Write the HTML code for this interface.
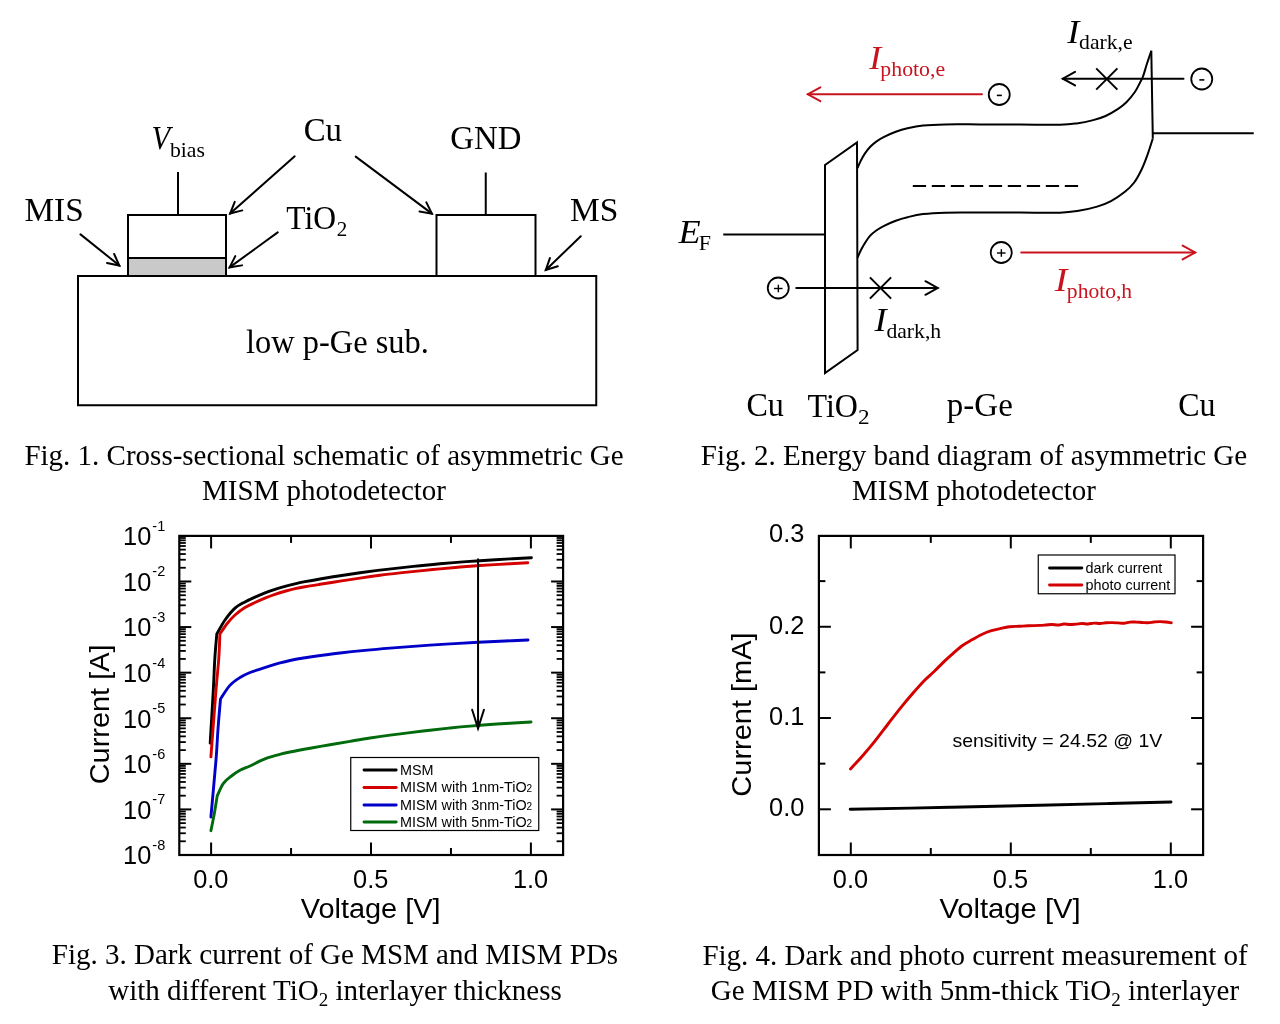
<!DOCTYPE html>
<html><head><meta charset="utf-8"><style>
html,body{margin:0;padding:0;background:#fff;}
svg{display:block;will-change:transform;}
</style></head><body>
<svg width="1280" height="1024" viewBox="0 0 1280 1024">
<rect width="1280" height="1024" fill="#fff"/>
<rect x="78" y="276" width="518.25" height="129.25" fill="none" stroke="#000" stroke-width="2"/>
<rect x="128" y="258" width="98" height="18" fill="#c9c9c9" stroke="#000" stroke-width="2"/>
<rect x="128" y="215" width="98" height="43" fill="none" stroke="#000" stroke-width="2"/>
<rect x="436.5" y="215" width="99" height="61" fill="none" stroke="#000" stroke-width="2"/>
<line x1="178.00" y1="172.00" x2="178.00" y2="215.00" stroke="#000" stroke-width="2" />
<line x1="485.75" y1="172.50" x2="485.75" y2="215.00" stroke="#000" stroke-width="2" />
<line x1="294.70" y1="156.30" x2="230.12" y2="213.57" stroke="#000" stroke-width="2" stroke-linecap="round"/>
<polyline points="234.73,201.84 230.12,213.57 242.32,210.40" fill="none" stroke="#000" stroke-width="2" stroke-linecap="round" stroke-linejoin="miter"/>
<line x1="355.70" y1="156.60" x2="431.92" y2="213.64" stroke="#000" stroke-width="2" stroke-linecap="round"/>
<polyline points="419.50,211.49 431.92,213.64 426.36,202.33" fill="none" stroke="#000" stroke-width="2" stroke-linecap="round" stroke-linejoin="miter"/>
<line x1="277.70" y1="232.40" x2="229.59" y2="267.35" stroke="#000" stroke-width="2" stroke-linecap="round"/>
<polyline points="235.31,256.13 229.59,267.35 242.03,265.38" fill="none" stroke="#000" stroke-width="2" stroke-linecap="round" stroke-linejoin="miter"/>
<line x1="80.50" y1="234.40" x2="119.34" y2="265.51" stroke="#000" stroke-width="2" stroke-linecap="round"/>
<polyline points="107.00,262.96 119.34,265.51 114.16,254.03" fill="none" stroke="#000" stroke-width="2" stroke-linecap="round" stroke-linejoin="miter"/>
<line x1="580.75" y1="236.25" x2="545.79" y2="269.99" stroke="#000" stroke-width="2" stroke-linecap="round"/>
<polyline points="549.90,258.07 545.79,269.99 557.84,266.31" fill="none" stroke="#000" stroke-width="2" stroke-linecap="round" stroke-linejoin="miter"/>
<text transform="translate(303.65,141.40) scale(0.9887,1)" font-family='"Liberation Serif", serif' font-size="33.2" fill="#000">Cu</text>
<text transform="translate(450.35,149.40) scale(0.9879,1)" font-family='"Liberation Serif", serif' font-size="33.2" fill="#000">GND</text>
<text transform="translate(24.54,220.90) scale(1.0013,1)" font-family='"Liberation Serif", serif' font-size="33.2" fill="#000">MIS</text>
<text transform="translate(569.93,220.70) scale(1.0096,1)" font-family='"Liberation Serif", serif' font-size="33.2" fill="#000">MS</text>
<text transform="translate(286.33,229.40) scale(0.9511,1)" font-family='"Liberation Serif", serif' font-size="33.2" fill="#000">TiO</text>
<text transform="translate(336.87,236.10) scale(0.9804,1)" font-family='"Liberation Serif", serif' font-size="21.5" fill="#000">2</text>
<text transform="translate(151.60,149.40) scale(0.9200,1)" font-family='"Liberation Serif", serif' font-size="33.2" fill="#000" font-style="italic">V</text>
<text transform="translate(169.90,156.50) scale(1.0102,1)" font-family='"Liberation Serif", serif' font-size="21.5" fill="#000">bias</text>
<text transform="translate(245.95,352.50) scale(0.9770,1)" font-family='"Liberation Serif", serif' font-size="33.2" fill="#000">low p-Ge sub.</text>
<polygon points="825,165 857,142.5 857.6,350 825,373" fill="none" stroke="#000" stroke-width="2" stroke-linejoin="miter"/>
<line x1="723.25" y1="234.50" x2="825.00" y2="234.50" stroke="#000" stroke-width="2" />
<path d="M857.50,168.10C858.02,166.93 859.43,163.43 860.60,161.10C861.77,158.77 862.93,156.45 864.50,154.10C866.07,151.75 868.04,149.08 870.00,147.00C871.96,144.92 873.90,143.28 876.25,141.60C878.60,139.92 880.84,138.53 884.10,136.90C887.36,135.27 891.90,133.23 895.80,131.80C899.70,130.37 902.95,129.35 907.50,128.30C912.05,127.25 916.85,126.15 923.10,125.50C929.35,124.85 935.52,124.58 945.00,124.40C954.48,124.22 967.50,124.38 980.00,124.40C992.50,124.42 1006.67,124.45 1020.00,124.50C1033.33,124.55 1050.57,124.88 1060.00,124.70C1069.43,124.52 1071.07,124.17 1076.60,123.40C1082.13,122.63 1088.37,121.33 1093.20,120.10C1098.03,118.87 1101.45,117.87 1105.60,116.00C1109.75,114.13 1114.63,111.18 1118.10,108.90C1121.57,106.62 1123.63,105.07 1126.40,102.30C1129.17,99.53 1132.48,95.48 1134.70,92.30C1136.92,89.12 1138.32,85.83 1139.70,83.20C1141.08,80.57 1141.77,79.82 1143.00,76.50C1144.23,73.18 1145.72,67.58 1147.10,63.30C1148.48,59.02 1150.60,52.88 1151.30,50.80" fill="none" stroke="#000" stroke-width="2"/>
<path d="M857.50,257.80C858.02,256.63 859.43,253.14 860.60,250.80C861.77,248.46 862.93,246.23 864.50,243.75C866.07,241.27 868.04,238.11 870.00,235.90C871.96,233.69 873.90,232.18 876.25,230.50C878.60,228.82 880.84,227.43 884.10,225.80C887.36,224.17 891.90,222.13 895.80,220.70C899.70,219.27 902.95,218.30 907.50,217.20C912.05,216.10 916.85,214.85 923.10,214.10C929.35,213.35 935.52,212.95 945.00,212.70C954.48,212.45 967.50,212.62 980.00,212.60C992.50,212.58 1006.67,212.58 1020.00,212.60C1033.33,212.62 1050.23,213.00 1060.00,212.70C1069.77,212.40 1072.42,211.82 1078.60,210.80C1084.78,209.78 1091.70,208.22 1097.10,206.60C1102.50,204.98 1106.37,203.57 1111.00,201.10C1115.63,198.63 1121.03,194.90 1124.90,191.80C1128.77,188.70 1131.42,186.22 1134.20,182.50C1136.98,178.78 1139.43,173.98 1141.60,169.50C1143.77,165.02 1145.33,160.77 1147.20,155.60C1149.07,150.43 1151.87,141.35 1152.80,138.50" fill="none" stroke="#000" stroke-width="2"/>
<polyline points="1151.3,50.8 1152.8,138.5" fill="none" stroke="#000" stroke-width="2"/>
<line x1="1152.80" y1="133.20" x2="1253.75" y2="133.20" stroke="#000" stroke-width="2" />
<line x1="912.80" y1="185.90" x2="1078.20" y2="185.90" stroke="#000" stroke-width="2" stroke-dasharray="13.3 5.7"/>
<line x1="982.00" y1="94.25" x2="807.85" y2="94.25" stroke="#c8141e" stroke-width="2" stroke-linecap="round"/>
<polyline points="820.36,87.32 807.85,94.25 820.36,101.18" fill="none" stroke="#c8141e" stroke-width="2" stroke-linecap="round" stroke-linejoin="miter"/>
<line x1="1021.25" y1="252.50" x2="1195.15" y2="252.50" stroke="#c8141e" stroke-width="2" stroke-linecap="round"/>
<polyline points="1182.64,259.43 1195.15,252.50 1182.64,245.57" fill="none" stroke="#c8141e" stroke-width="2" stroke-linecap="round" stroke-linejoin="miter"/>
<line x1="1183.50" y1="78.70" x2="1062.80" y2="78.70" stroke="#000" stroke-width="2" stroke-linecap="round"/>
<polyline points="1075.04,71.91 1062.80,78.70 1075.04,85.49" fill="none" stroke="#000" stroke-width="2" stroke-linecap="round" stroke-linejoin="miter"/>
<line x1="796.25" y1="288.00" x2="937.65" y2="288.00" stroke="#000" stroke-width="2" stroke-linecap="round"/>
<polyline points="925.41,294.79 937.65,288.00 925.41,281.21" fill="none" stroke="#000" stroke-width="2" stroke-linecap="round" stroke-linejoin="miter"/>
<line x1="1096.20" y1="68.40" x2="1117.40" y2="89.60" stroke="#000" stroke-width="2" />
<line x1="1096.20" y1="89.60" x2="1117.40" y2="68.40" stroke="#000" stroke-width="2" />
<line x1="869.90" y1="277.40" x2="891.10" y2="298.60" stroke="#000" stroke-width="2" />
<line x1="869.90" y1="298.60" x2="891.10" y2="277.40" stroke="#000" stroke-width="2" />
<circle cx="999.25" cy="94.5" r="10.5" fill="none" stroke="#000" stroke-width="1.8"/>
<line x1="996.85" y1="95.40" x2="1001.85" y2="95.40" stroke="#000" stroke-width="1.6" />
<circle cx="1201.75" cy="79" r="10.5" fill="none" stroke="#000" stroke-width="1.8"/>
<line x1="1199.35" y1="79.90" x2="1204.35" y2="79.90" stroke="#000" stroke-width="1.6" />
<circle cx="778.25" cy="288" r="10.5" fill="none" stroke="#000" stroke-width="1.8"/>
<line x1="773.95" y1="288.50" x2="782.55" y2="288.50" stroke="#000" stroke-width="1.4" />
<line x1="778.35" y1="284.70" x2="778.35" y2="292.30" stroke="#000" stroke-width="1.4" />
<circle cx="1001.25" cy="252.5" r="10.5" fill="none" stroke="#000" stroke-width="1.8"/>
<line x1="996.95" y1="253.00" x2="1005.55" y2="253.00" stroke="#000" stroke-width="1.4" />
<line x1="1001.35" y1="249.20" x2="1001.35" y2="256.80" stroke="#000" stroke-width="1.4" />
<text transform="translate(869.14,69.30) scale(1.0815,1)" font-family='"Liberation Serif", serif' font-size="33.2" fill="#c8141e" font-style="italic">I</text>
<text transform="translate(880.35,75.90) scale(1.0143,1)" font-family='"Liberation Serif", serif' font-size="21.5" fill="#c8141e">photo,e</text>
<text transform="translate(1054.75,290.80) scale(1.1536,1)" font-family='"Liberation Serif", serif' font-size="33.2" fill="#c8141e" font-style="italic">I</text>
<text transform="translate(1066.85,297.90) scale(1.0036,1)" font-family='"Liberation Serif", serif' font-size="21.5" fill="#c8141e">photo,h</text>
<text transform="translate(1067.34,42.50) scale(1.0975,1)" font-family='"Liberation Serif", serif' font-size="33.2" fill="#000" font-style="italic">I</text>
<text transform="translate(1079.12,49.10) scale(1.0078,1)" font-family='"Liberation Serif", serif' font-size="21.5" fill="#000">dark,e</text>
<text transform="translate(874.54,330.60) scale(1.0975,1)" font-family='"Liberation Serif", serif' font-size="33.2" fill="#000" font-style="italic">I</text>
<text transform="translate(886.42,337.50) scale(1.0081,1)" font-family='"Liberation Serif", serif' font-size="21.5" fill="#000">dark,h</text>
<text transform="translate(678.43,242.90) scale(1.0927,1)" font-family='"Liberation Serif", serif' font-size="33.2" fill="#000" font-style="italic">E</text>
<text transform="translate(698.67,249.50) scale(1.0226,1)" font-family='"Liberation Serif", serif' font-size="21.5" fill="#000">F</text>
<text transform="translate(746.38,416.30) scale(0.9670,1)" font-family='"Liberation Serif", serif' font-size="33.2" fill="#000">Cu</text>
<text transform="translate(807.52,416.60) scale(0.9647,1)" font-family='"Liberation Serif", serif' font-size="33.2" fill="#000">TiO</text>
<text transform="translate(858.08,423.75) scale(1.0790,1)" font-family='"Liberation Serif", serif' font-size="21.5" fill="#000">2</text>
<text transform="translate(946.87,416.30) scale(0.9941,1)" font-family='"Liberation Serif", serif' font-size="33.2" fill="#000">p-Ge</text>
<text transform="translate(1178.19,416.30) scale(0.9643,1)" font-family='"Liberation Serif", serif' font-size="33.2" fill="#000">Cu</text>
<text x="324" y="465.25" font-family='"Liberation Serif", serif' font-size="29" text-anchor="middle" fill="#000" >Fig. 1. Cross-sectional schematic of asymmetric Ge</text>
<text x="324" y="499.5" font-family='"Liberation Serif", serif' font-size="29" text-anchor="middle" fill="#000" >MISM photodetector</text>
<text x="974" y="465.25" font-family='"Liberation Serif", serif' font-size="29" text-anchor="middle" fill="#000" >Fig. 2. Energy band diagram of asymmetric Ge</text>
<text x="974" y="499.5" font-family='"Liberation Serif", serif' font-size="29" text-anchor="middle" fill="#000" >MISM photodetector</text>
<text x="335" y="963.6" font-family='"Liberation Serif", serif' font-size="29" text-anchor="middle" fill="#000" >Fig. 3. Dark current of Ge MSM and MISM PDs</text>
<text x="335" y="999.6" font-family='"Liberation Serif", serif' font-size="29" text-anchor="middle" fill="#000" >with different TiO<tspan font-size="19" dy="6">2</tspan><tspan dy="-6"> interlayer thickness</tspan></text>
<text x="975" y="964.8" font-family='"Liberation Serif", serif' font-size="29" text-anchor="middle" fill="#000" >Fig. 4. Dark and photo current measurement of</text>
<text x="975" y="999.6" font-family='"Liberation Serif", serif' font-size="29" text-anchor="middle" fill="#000" >Ge MISM PD with 5nm-thick TiO<tspan font-size="19" dy="6">2</tspan><tspan dy="-6"> interlayer</tspan></text>
<rect x="179.3" y="535.9" width="383.8" height="319.1" fill="none" stroke="#000" stroke-width="2.2"/>
<line x1="211.10" y1="535.90" x2="211.10" y2="548.40" stroke="#000" stroke-width="2" />
<line x1="211.10" y1="855.00" x2="211.10" y2="842.50" stroke="#000" stroke-width="2" />
<line x1="291.05" y1="535.90" x2="291.05" y2="542.90" stroke="#000" stroke-width="2" />
<line x1="291.05" y1="855.00" x2="291.05" y2="848.00" stroke="#000" stroke-width="2" />
<line x1="371.00" y1="535.90" x2="371.00" y2="548.40" stroke="#000" stroke-width="2" />
<line x1="371.00" y1="855.00" x2="371.00" y2="842.50" stroke="#000" stroke-width="2" />
<line x1="450.95" y1="535.90" x2="450.95" y2="542.90" stroke="#000" stroke-width="2" />
<line x1="450.95" y1="855.00" x2="450.95" y2="848.00" stroke="#000" stroke-width="2" />
<line x1="530.90" y1="535.90" x2="530.90" y2="548.40" stroke="#000" stroke-width="2" />
<line x1="530.90" y1="855.00" x2="530.90" y2="842.50" stroke="#000" stroke-width="2" />
<line x1="179.30" y1="841.28" x2="185.80" y2="841.28" stroke="#000" stroke-width="1.8" />
<line x1="563.10" y1="841.28" x2="556.60" y2="841.28" stroke="#000" stroke-width="1.8" />
<line x1="179.30" y1="833.25" x2="185.80" y2="833.25" stroke="#000" stroke-width="1.8" />
<line x1="563.10" y1="833.25" x2="556.60" y2="833.25" stroke="#000" stroke-width="1.8" />
<line x1="179.30" y1="827.55" x2="185.80" y2="827.55" stroke="#000" stroke-width="1.8" />
<line x1="563.10" y1="827.55" x2="556.60" y2="827.55" stroke="#000" stroke-width="1.8" />
<line x1="179.30" y1="823.14" x2="185.80" y2="823.14" stroke="#000" stroke-width="1.8" />
<line x1="563.10" y1="823.14" x2="556.60" y2="823.14" stroke="#000" stroke-width="1.8" />
<line x1="179.30" y1="819.53" x2="185.80" y2="819.53" stroke="#000" stroke-width="1.8" />
<line x1="563.10" y1="819.53" x2="556.60" y2="819.53" stroke="#000" stroke-width="1.8" />
<line x1="179.30" y1="816.48" x2="185.80" y2="816.48" stroke="#000" stroke-width="1.8" />
<line x1="563.10" y1="816.48" x2="556.60" y2="816.48" stroke="#000" stroke-width="1.8" />
<line x1="179.30" y1="813.83" x2="185.80" y2="813.83" stroke="#000" stroke-width="1.8" />
<line x1="563.10" y1="813.83" x2="556.60" y2="813.83" stroke="#000" stroke-width="1.8" />
<line x1="179.30" y1="811.50" x2="185.80" y2="811.50" stroke="#000" stroke-width="1.8" />
<line x1="563.10" y1="811.50" x2="556.60" y2="811.50" stroke="#000" stroke-width="1.8" />
<line x1="179.30" y1="809.41" x2="191.30" y2="809.41" stroke="#000" stroke-width="2" />
<line x1="563.10" y1="809.41" x2="551.10" y2="809.41" stroke="#000" stroke-width="2" />
<line x1="179.30" y1="795.69" x2="185.80" y2="795.69" stroke="#000" stroke-width="1.8" />
<line x1="563.10" y1="795.69" x2="556.60" y2="795.69" stroke="#000" stroke-width="1.8" />
<line x1="179.30" y1="787.66" x2="185.80" y2="787.66" stroke="#000" stroke-width="1.8" />
<line x1="563.10" y1="787.66" x2="556.60" y2="787.66" stroke="#000" stroke-width="1.8" />
<line x1="179.30" y1="781.97" x2="185.80" y2="781.97" stroke="#000" stroke-width="1.8" />
<line x1="563.10" y1="781.97" x2="556.60" y2="781.97" stroke="#000" stroke-width="1.8" />
<line x1="179.30" y1="777.55" x2="185.80" y2="777.55" stroke="#000" stroke-width="1.8" />
<line x1="563.10" y1="777.55" x2="556.60" y2="777.55" stroke="#000" stroke-width="1.8" />
<line x1="179.30" y1="773.94" x2="185.80" y2="773.94" stroke="#000" stroke-width="1.8" />
<line x1="563.10" y1="773.94" x2="556.60" y2="773.94" stroke="#000" stroke-width="1.8" />
<line x1="179.30" y1="770.89" x2="185.80" y2="770.89" stroke="#000" stroke-width="1.8" />
<line x1="563.10" y1="770.89" x2="556.60" y2="770.89" stroke="#000" stroke-width="1.8" />
<line x1="179.30" y1="768.25" x2="185.80" y2="768.25" stroke="#000" stroke-width="1.8" />
<line x1="563.10" y1="768.25" x2="556.60" y2="768.25" stroke="#000" stroke-width="1.8" />
<line x1="179.30" y1="765.91" x2="185.80" y2="765.91" stroke="#000" stroke-width="1.8" />
<line x1="563.10" y1="765.91" x2="556.60" y2="765.91" stroke="#000" stroke-width="1.8" />
<line x1="179.30" y1="763.83" x2="191.30" y2="763.83" stroke="#000" stroke-width="2" />
<line x1="563.10" y1="763.83" x2="551.10" y2="763.83" stroke="#000" stroke-width="2" />
<line x1="179.30" y1="750.11" x2="185.80" y2="750.11" stroke="#000" stroke-width="1.8" />
<line x1="563.10" y1="750.11" x2="556.60" y2="750.11" stroke="#000" stroke-width="1.8" />
<line x1="179.30" y1="742.08" x2="185.80" y2="742.08" stroke="#000" stroke-width="1.8" />
<line x1="563.10" y1="742.08" x2="556.60" y2="742.08" stroke="#000" stroke-width="1.8" />
<line x1="179.30" y1="736.38" x2="185.80" y2="736.38" stroke="#000" stroke-width="1.8" />
<line x1="563.10" y1="736.38" x2="556.60" y2="736.38" stroke="#000" stroke-width="1.8" />
<line x1="179.30" y1="731.97" x2="185.80" y2="731.97" stroke="#000" stroke-width="1.8" />
<line x1="563.10" y1="731.97" x2="556.60" y2="731.97" stroke="#000" stroke-width="1.8" />
<line x1="179.30" y1="728.36" x2="185.80" y2="728.36" stroke="#000" stroke-width="1.8" />
<line x1="563.10" y1="728.36" x2="556.60" y2="728.36" stroke="#000" stroke-width="1.8" />
<line x1="179.30" y1="725.30" x2="185.80" y2="725.30" stroke="#000" stroke-width="1.8" />
<line x1="563.10" y1="725.30" x2="556.60" y2="725.30" stroke="#000" stroke-width="1.8" />
<line x1="179.30" y1="722.66" x2="185.80" y2="722.66" stroke="#000" stroke-width="1.8" />
<line x1="563.10" y1="722.66" x2="556.60" y2="722.66" stroke="#000" stroke-width="1.8" />
<line x1="179.30" y1="720.33" x2="185.80" y2="720.33" stroke="#000" stroke-width="1.8" />
<line x1="563.10" y1="720.33" x2="556.60" y2="720.33" stroke="#000" stroke-width="1.8" />
<line x1="179.30" y1="718.24" x2="191.30" y2="718.24" stroke="#000" stroke-width="2" />
<line x1="563.10" y1="718.24" x2="551.10" y2="718.24" stroke="#000" stroke-width="2" />
<line x1="179.30" y1="704.52" x2="185.80" y2="704.52" stroke="#000" stroke-width="1.8" />
<line x1="563.10" y1="704.52" x2="556.60" y2="704.52" stroke="#000" stroke-width="1.8" />
<line x1="179.30" y1="696.49" x2="185.80" y2="696.49" stroke="#000" stroke-width="1.8" />
<line x1="563.10" y1="696.49" x2="556.60" y2="696.49" stroke="#000" stroke-width="1.8" />
<line x1="179.30" y1="690.80" x2="185.80" y2="690.80" stroke="#000" stroke-width="1.8" />
<line x1="563.10" y1="690.80" x2="556.60" y2="690.80" stroke="#000" stroke-width="1.8" />
<line x1="179.30" y1="686.38" x2="185.80" y2="686.38" stroke="#000" stroke-width="1.8" />
<line x1="563.10" y1="686.38" x2="556.60" y2="686.38" stroke="#000" stroke-width="1.8" />
<line x1="179.30" y1="682.77" x2="185.80" y2="682.77" stroke="#000" stroke-width="1.8" />
<line x1="563.10" y1="682.77" x2="556.60" y2="682.77" stroke="#000" stroke-width="1.8" />
<line x1="179.30" y1="679.72" x2="185.80" y2="679.72" stroke="#000" stroke-width="1.8" />
<line x1="563.10" y1="679.72" x2="556.60" y2="679.72" stroke="#000" stroke-width="1.8" />
<line x1="179.30" y1="677.07" x2="185.80" y2="677.07" stroke="#000" stroke-width="1.8" />
<line x1="563.10" y1="677.07" x2="556.60" y2="677.07" stroke="#000" stroke-width="1.8" />
<line x1="179.30" y1="674.74" x2="185.80" y2="674.74" stroke="#000" stroke-width="1.8" />
<line x1="563.10" y1="674.74" x2="556.60" y2="674.74" stroke="#000" stroke-width="1.8" />
<line x1="179.30" y1="672.66" x2="191.30" y2="672.66" stroke="#000" stroke-width="2" />
<line x1="563.10" y1="672.66" x2="551.10" y2="672.66" stroke="#000" stroke-width="2" />
<line x1="179.30" y1="658.93" x2="185.80" y2="658.93" stroke="#000" stroke-width="1.8" />
<line x1="563.10" y1="658.93" x2="556.60" y2="658.93" stroke="#000" stroke-width="1.8" />
<line x1="179.30" y1="650.91" x2="185.80" y2="650.91" stroke="#000" stroke-width="1.8" />
<line x1="563.10" y1="650.91" x2="556.60" y2="650.91" stroke="#000" stroke-width="1.8" />
<line x1="179.30" y1="645.21" x2="185.80" y2="645.21" stroke="#000" stroke-width="1.8" />
<line x1="563.10" y1="645.21" x2="556.60" y2="645.21" stroke="#000" stroke-width="1.8" />
<line x1="179.30" y1="640.79" x2="185.80" y2="640.79" stroke="#000" stroke-width="1.8" />
<line x1="563.10" y1="640.79" x2="556.60" y2="640.79" stroke="#000" stroke-width="1.8" />
<line x1="179.30" y1="637.18" x2="185.80" y2="637.18" stroke="#000" stroke-width="1.8" />
<line x1="563.10" y1="637.18" x2="556.60" y2="637.18" stroke="#000" stroke-width="1.8" />
<line x1="179.30" y1="634.13" x2="185.80" y2="634.13" stroke="#000" stroke-width="1.8" />
<line x1="563.10" y1="634.13" x2="556.60" y2="634.13" stroke="#000" stroke-width="1.8" />
<line x1="179.30" y1="631.49" x2="185.80" y2="631.49" stroke="#000" stroke-width="1.8" />
<line x1="563.10" y1="631.49" x2="556.60" y2="631.49" stroke="#000" stroke-width="1.8" />
<line x1="179.30" y1="629.16" x2="185.80" y2="629.16" stroke="#000" stroke-width="1.8" />
<line x1="563.10" y1="629.16" x2="556.60" y2="629.16" stroke="#000" stroke-width="1.8" />
<line x1="179.30" y1="627.07" x2="191.30" y2="627.07" stroke="#000" stroke-width="2" />
<line x1="563.10" y1="627.07" x2="551.10" y2="627.07" stroke="#000" stroke-width="2" />
<line x1="179.30" y1="613.35" x2="185.80" y2="613.35" stroke="#000" stroke-width="1.8" />
<line x1="563.10" y1="613.35" x2="556.60" y2="613.35" stroke="#000" stroke-width="1.8" />
<line x1="179.30" y1="605.32" x2="185.80" y2="605.32" stroke="#000" stroke-width="1.8" />
<line x1="563.10" y1="605.32" x2="556.60" y2="605.32" stroke="#000" stroke-width="1.8" />
<line x1="179.30" y1="599.63" x2="185.80" y2="599.63" stroke="#000" stroke-width="1.8" />
<line x1="563.10" y1="599.63" x2="556.60" y2="599.63" stroke="#000" stroke-width="1.8" />
<line x1="179.30" y1="595.21" x2="185.80" y2="595.21" stroke="#000" stroke-width="1.8" />
<line x1="563.10" y1="595.21" x2="556.60" y2="595.21" stroke="#000" stroke-width="1.8" />
<line x1="179.30" y1="591.60" x2="185.80" y2="591.60" stroke="#000" stroke-width="1.8" />
<line x1="563.10" y1="591.60" x2="556.60" y2="591.60" stroke="#000" stroke-width="1.8" />
<line x1="179.30" y1="588.55" x2="185.80" y2="588.55" stroke="#000" stroke-width="1.8" />
<line x1="563.10" y1="588.55" x2="556.60" y2="588.55" stroke="#000" stroke-width="1.8" />
<line x1="179.30" y1="585.90" x2="185.80" y2="585.90" stroke="#000" stroke-width="1.8" />
<line x1="563.10" y1="585.90" x2="556.60" y2="585.90" stroke="#000" stroke-width="1.8" />
<line x1="179.30" y1="583.57" x2="185.80" y2="583.57" stroke="#000" stroke-width="1.8" />
<line x1="563.10" y1="583.57" x2="556.60" y2="583.57" stroke="#000" stroke-width="1.8" />
<line x1="179.30" y1="581.49" x2="191.30" y2="581.49" stroke="#000" stroke-width="2" />
<line x1="563.10" y1="581.49" x2="551.10" y2="581.49" stroke="#000" stroke-width="2" />
<line x1="179.30" y1="567.76" x2="185.80" y2="567.76" stroke="#000" stroke-width="1.8" />
<line x1="563.10" y1="567.76" x2="556.60" y2="567.76" stroke="#000" stroke-width="1.8" />
<line x1="179.30" y1="559.74" x2="185.80" y2="559.74" stroke="#000" stroke-width="1.8" />
<line x1="563.10" y1="559.74" x2="556.60" y2="559.74" stroke="#000" stroke-width="1.8" />
<line x1="179.30" y1="554.04" x2="185.80" y2="554.04" stroke="#000" stroke-width="1.8" />
<line x1="563.10" y1="554.04" x2="556.60" y2="554.04" stroke="#000" stroke-width="1.8" />
<line x1="179.30" y1="549.62" x2="185.80" y2="549.62" stroke="#000" stroke-width="1.8" />
<line x1="563.10" y1="549.62" x2="556.60" y2="549.62" stroke="#000" stroke-width="1.8" />
<line x1="179.30" y1="546.01" x2="185.80" y2="546.01" stroke="#000" stroke-width="1.8" />
<line x1="563.10" y1="546.01" x2="556.60" y2="546.01" stroke="#000" stroke-width="1.8" />
<line x1="179.30" y1="542.96" x2="185.80" y2="542.96" stroke="#000" stroke-width="1.8" />
<line x1="563.10" y1="542.96" x2="556.60" y2="542.96" stroke="#000" stroke-width="1.8" />
<line x1="179.30" y1="540.32" x2="185.80" y2="540.32" stroke="#000" stroke-width="1.8" />
<line x1="563.10" y1="540.32" x2="556.60" y2="540.32" stroke="#000" stroke-width="1.8" />
<line x1="179.30" y1="537.99" x2="185.80" y2="537.99" stroke="#000" stroke-width="1.8" />
<line x1="563.10" y1="537.99" x2="556.60" y2="537.99" stroke="#000" stroke-width="1.8" />
<text x="0" y="0" font-family='"Liberation Sans", sans-serif' font-size="26.4" text-anchor="end" fill="#000" transform="translate(151.30,864.30) scale(0.962,1)">10</text>
<text x="152.3" y="850.0" font-family='"Liberation Sans", sans-serif' font-size="14.5" text-anchor="start" fill="#000" >-8</text>
<text x="0" y="0" font-family='"Liberation Sans", sans-serif' font-size="26.4" text-anchor="end" fill="#000" transform="translate(151.30,818.71) scale(0.962,1)">10</text>
<text x="152.3" y="804.4142857142857" font-family='"Liberation Sans", sans-serif' font-size="14.5" text-anchor="start" fill="#000" >-7</text>
<text x="0" y="0" font-family='"Liberation Sans", sans-serif' font-size="26.4" text-anchor="end" fill="#000" transform="translate(151.30,773.13) scale(0.962,1)">10</text>
<text x="152.3" y="758.8285714285714" font-family='"Liberation Sans", sans-serif' font-size="14.5" text-anchor="start" fill="#000" >-6</text>
<text x="0" y="0" font-family='"Liberation Sans", sans-serif' font-size="26.4" text-anchor="end" fill="#000" transform="translate(151.30,727.54) scale(0.962,1)">10</text>
<text x="152.3" y="713.2428571428571" font-family='"Liberation Sans", sans-serif' font-size="14.5" text-anchor="start" fill="#000" >-5</text>
<text x="0" y="0" font-family='"Liberation Sans", sans-serif' font-size="26.4" text-anchor="end" fill="#000" transform="translate(151.30,681.96) scale(0.962,1)">10</text>
<text x="152.3" y="667.6571428571428" font-family='"Liberation Sans", sans-serif' font-size="14.5" text-anchor="start" fill="#000" >-4</text>
<text x="0" y="0" font-family='"Liberation Sans", sans-serif' font-size="26.4" text-anchor="end" fill="#000" transform="translate(151.30,636.37) scale(0.962,1)">10</text>
<text x="152.3" y="622.0714285714286" font-family='"Liberation Sans", sans-serif' font-size="14.5" text-anchor="start" fill="#000" >-3</text>
<text x="0" y="0" font-family='"Liberation Sans", sans-serif' font-size="26.4" text-anchor="end" fill="#000" transform="translate(151.30,590.79) scale(0.962,1)">10</text>
<text x="152.3" y="576.4857142857143" font-family='"Liberation Sans", sans-serif' font-size="14.5" text-anchor="start" fill="#000" >-2</text>
<text x="0" y="0" font-family='"Liberation Sans", sans-serif' font-size="26.4" text-anchor="end" fill="#000" transform="translate(151.30,545.20) scale(0.962,1)">10</text>
<text x="152.3" y="530.9" font-family='"Liberation Sans", sans-serif' font-size="14.5" text-anchor="start" fill="#000" >-1</text>
<text x="0" y="0" font-family='"Liberation Sans", sans-serif' font-size="26.4" text-anchor="middle" fill="#000" transform="translate(210.80,888.10) scale(0.962,1)">0.0</text>
<text x="0" y="0" font-family='"Liberation Sans", sans-serif' font-size="26.4" text-anchor="middle" fill="#000" transform="translate(370.70,888.10) scale(0.962,1)">0.5</text>
<text x="0" y="0" font-family='"Liberation Sans", sans-serif' font-size="26.4" text-anchor="middle" fill="#000" transform="translate(530.60,888.10) scale(0.962,1)">1.0</text>
<text x="0" y="0" font-family='"Liberation Sans", sans-serif' font-size="28.4" text-anchor="middle" fill="#000" transform="translate(370.65,917.8) scale(1.018,1)">Voltage [V]</text>
<text x="0" y="0" font-family='"Liberation Sans", sans-serif' font-size="28.4" text-anchor="middle" fill="#000" transform="translate(108.6,714.4) rotate(-90) scale(1.018,1)">Current [A]</text>
<path d="M210.20,743.10C210.72,734.25 212.53,704.02 213.30,690.00C214.07,675.98 214.22,668.32 214.80,659.00C215.38,649.68 216.47,638.25 216.80,634.10L216.80,634.10C218.17,631.75 221.97,624.33 225.00,620.00C228.03,615.67 231.67,611.12 235.00,608.10C238.33,605.08 241.67,603.73 245.00,601.90C248.33,600.07 251.67,598.60 255.00,597.09C258.33,595.59 261.67,594.15 265.00,592.85C268.33,591.55 271.67,590.38 275.00,589.28C278.33,588.19 281.67,587.21 285.00,586.29C288.33,585.38 291.67,584.56 295.00,583.79C298.33,583.03 300.83,582.50 305.00,581.69C309.17,580.89 314.17,579.98 320.00,578.98C325.83,577.98 333.33,576.75 340.00,575.71C346.67,574.68 353.33,573.68 360.00,572.76C366.67,571.83 373.33,570.97 380.00,570.15C386.67,569.33 393.33,568.58 400.00,567.84C406.67,567.10 413.33,566.40 420.00,565.73C426.67,565.06 433.33,564.41 440.00,563.80C446.67,563.19 453.33,562.62 460.00,562.10C466.67,561.58 471.67,561.23 480.00,560.70C488.33,560.17 501.43,559.42 510.00,558.92C518.57,558.42 527.83,557.90 531.40,557.70" fill="none" stroke="#000" stroke-width="2.9" stroke-linejoin="round" stroke-linecap="round"/>
<path d="M210.90,756.80C211.75,745.67 214.69,706.30 216.00,690.00C217.31,673.70 218.10,668.32 218.75,659.00C219.40,649.68 219.71,638.25 219.90,634.10L219.90,634.10C221.08,632.38 224.48,626.93 227.00,623.75C229.52,620.57 232.00,617.71 235.00,615.00C238.00,612.29 241.67,609.59 245.00,607.50C248.33,605.41 251.67,604.06 255.00,602.49C258.33,600.92 261.67,599.43 265.00,598.08C268.33,596.73 271.67,595.52 275.00,594.38C278.33,593.24 281.67,592.21 285.00,591.26C288.33,590.32 291.67,589.46 295.00,588.71C298.33,587.95 300.83,587.46 305.00,586.72C309.17,585.99 314.17,585.21 320.00,584.29C325.83,583.36 333.33,582.19 340.00,581.15C346.67,580.12 353.33,579.04 360.00,578.06C366.67,577.08 373.33,576.14 380.00,575.28C386.67,574.43 393.33,573.67 400.00,572.93C406.67,572.19 413.33,571.52 420.00,570.84C426.67,570.17 433.33,569.49 440.00,568.86C446.67,568.23 453.33,567.60 460.00,567.05C466.67,566.50 471.67,566.11 480.00,565.56C488.33,565.01 502.03,564.21 510.00,563.75C517.97,563.29 524.83,562.96 527.80,562.80" fill="none" stroke="#d40000" stroke-width="2.9" stroke-linejoin="round" stroke-linecap="round"/>
<path d="M210.90,817.00C211.75,807.50 214.82,774.67 216.00,760.00C217.18,745.33 217.25,739.17 218.00,729.00C218.75,718.83 220.08,704.00 220.50,699.00L220.50,699.00C222.03,696.77 226.45,689.18 229.70,685.60C232.95,682.02 236.62,679.68 240.00,677.50C243.38,675.32 246.67,673.89 250.00,672.50C253.33,671.11 256.67,670.26 260.00,669.16C263.33,668.06 266.67,666.95 270.00,665.91C273.33,664.88 276.67,663.86 280.00,662.96C283.33,662.06 286.67,661.24 290.00,660.51C293.33,659.77 296.67,659.14 300.00,658.55C303.33,657.96 303.33,657.88 310.00,656.97C316.67,656.05 330.83,654.15 340.00,653.05C349.17,651.94 356.67,651.16 365.00,650.34C373.33,649.52 380.83,648.87 390.00,648.12C399.17,647.37 410.00,646.54 420.00,645.84C430.00,645.13 440.33,644.47 450.00,643.89C459.67,643.30 469.67,642.76 478.00,642.32C486.33,641.87 491.67,641.62 500.00,641.24C508.33,640.85 523.33,640.21 528.00,640.00" fill="none" stroke="#0000c8" stroke-width="2.9" stroke-linejoin="round" stroke-linecap="round"/>
<path d="M210.90,830.70C211.43,828.03 213.05,820.50 214.10,814.70C215.15,808.90 216.68,799.03 217.20,795.90L217.20,795.90C218.23,793.82 221.02,786.72 223.40,783.40C225.78,780.08 228.73,778.18 231.50,776.00C234.27,773.82 236.92,771.97 240.00,770.30C243.08,768.63 246.90,767.44 250.00,766.00C253.10,764.56 256.10,762.86 258.60,761.66C261.10,760.47 263.10,759.59 265.00,758.82C266.90,758.05 267.50,757.82 270.00,757.07C272.50,756.32 276.67,755.14 280.00,754.30C283.33,753.45 285.00,753.01 290.00,752.00C295.00,750.99 303.33,749.43 310.00,748.23C316.67,747.02 323.33,745.94 330.00,744.79C336.67,743.64 343.33,742.45 350.00,741.32C356.67,740.19 363.33,739.02 370.00,737.99C376.67,736.97 383.33,736.04 390.00,735.15C396.67,734.26 403.33,733.47 410.00,732.65C416.67,731.83 423.33,731.03 430.00,730.26C436.67,729.48 443.33,728.70 450.00,728.01C456.67,727.31 463.33,726.65 470.00,726.07C476.67,725.49 483.33,724.99 490.00,724.52C496.67,724.04 503.17,723.65 510.00,723.23C516.83,722.82 527.50,722.21 531.00,722.00" fill="none" stroke="#006a0c" stroke-width="2.9" stroke-linejoin="round" stroke-linecap="round"/>
<line x1="478.05" y1="559.20" x2="478.05" y2="728.40" stroke="#000" stroke-width="2" stroke-linecap="round"/>
<polyline points="472.15,709.81 478.05,728.40 483.95,709.81" fill="none" stroke="#000" stroke-width="2" stroke-linecap="round" stroke-linejoin="miter"/>
<rect x="350.75" y="757.5" width="188" height="73" fill="#fff" stroke="#000" stroke-width="1.2"/>
<line x1="364.00" y1="770.00" x2="396.20" y2="770.00" stroke="#000" stroke-width="2.9" stroke-linecap="round"/>
<text x="400" y="774.8" font-family='"Liberation Sans", sans-serif' font-size="14.4" text-anchor="start" fill="#000" >MSM</text>
<line x1="364.00" y1="787.50" x2="396.20" y2="787.50" stroke="#d40000" stroke-width="2.9" stroke-linecap="round"/>
<text x="400" y="792.3" font-family='"Liberation Sans", sans-serif' font-size="14.4" text-anchor="start" fill="#000" >MISM with 1nm-TiO<tspan font-size="10">2</tspan></text>
<line x1="364.00" y1="805.00" x2="396.20" y2="805.00" stroke="#0000c8" stroke-width="2.9" stroke-linecap="round"/>
<text x="400" y="809.8" font-family='"Liberation Sans", sans-serif' font-size="14.4" text-anchor="start" fill="#000" >MISM with 3nm-TiO<tspan font-size="10">2</tspan></text>
<line x1="364.00" y1="822.00" x2="396.20" y2="822.00" stroke="#006a0c" stroke-width="2.9" stroke-linecap="round"/>
<text x="400" y="826.8" font-family='"Liberation Sans", sans-serif' font-size="14.4" text-anchor="start" fill="#000" >MISM with 5nm-TiO<tspan font-size="10">2</tspan></text>
<rect x="818.9" y="535.9" width="384.19999999999993" height="319.1" fill="none" stroke="#000" stroke-width="2.2"/>
<line x1="850.80" y1="535.90" x2="850.80" y2="548.40" stroke="#000" stroke-width="2" />
<line x1="850.80" y1="855.00" x2="850.80" y2="842.50" stroke="#000" stroke-width="2" />
<line x1="930.80" y1="535.90" x2="930.80" y2="542.90" stroke="#000" stroke-width="2" />
<line x1="930.80" y1="855.00" x2="930.80" y2="848.00" stroke="#000" stroke-width="2" />
<line x1="1010.80" y1="535.90" x2="1010.80" y2="548.40" stroke="#000" stroke-width="2" />
<line x1="1010.80" y1="855.00" x2="1010.80" y2="842.50" stroke="#000" stroke-width="2" />
<line x1="1090.80" y1="535.90" x2="1090.80" y2="542.90" stroke="#000" stroke-width="2" />
<line x1="1090.80" y1="855.00" x2="1090.80" y2="848.00" stroke="#000" stroke-width="2" />
<line x1="1170.80" y1="535.90" x2="1170.80" y2="548.40" stroke="#000" stroke-width="2" />
<line x1="1170.80" y1="855.00" x2="1170.80" y2="842.50" stroke="#000" stroke-width="2" />
<line x1="818.90" y1="809.30" x2="830.90" y2="809.30" stroke="#000" stroke-width="2" />
<line x1="1203.10" y1="809.30" x2="1191.10" y2="809.30" stroke="#000" stroke-width="2" />
<line x1="818.90" y1="763.66" x2="825.40" y2="763.66" stroke="#000" stroke-width="2" />
<line x1="1203.10" y1="763.66" x2="1196.60" y2="763.66" stroke="#000" stroke-width="2" />
<line x1="818.90" y1="718.03" x2="830.90" y2="718.03" stroke="#000" stroke-width="2" />
<line x1="1203.10" y1="718.03" x2="1191.10" y2="718.03" stroke="#000" stroke-width="2" />
<line x1="818.90" y1="672.39" x2="825.40" y2="672.39" stroke="#000" stroke-width="2" />
<line x1="1203.10" y1="672.39" x2="1196.60" y2="672.39" stroke="#000" stroke-width="2" />
<line x1="818.90" y1="626.76" x2="830.90" y2="626.76" stroke="#000" stroke-width="2" />
<line x1="1203.10" y1="626.76" x2="1191.10" y2="626.76" stroke="#000" stroke-width="2" />
<line x1="818.90" y1="581.12" x2="825.40" y2="581.12" stroke="#000" stroke-width="2" />
<line x1="1203.10" y1="581.12" x2="1196.60" y2="581.12" stroke="#000" stroke-width="2" />
<text x="0" y="0" font-family='"Liberation Sans", sans-serif' font-size="26.4" text-anchor="end" fill="#000" transform="translate(804.40,816.10) scale(0.962,1)">0.0</text>
<text x="0" y="0" font-family='"Liberation Sans", sans-serif' font-size="26.4" text-anchor="end" fill="#000" transform="translate(804.40,724.83) scale(0.962,1)">0.1</text>
<text x="0" y="0" font-family='"Liberation Sans", sans-serif' font-size="26.4" text-anchor="end" fill="#000" transform="translate(804.40,633.56) scale(0.962,1)">0.2</text>
<text x="0" y="0" font-family='"Liberation Sans", sans-serif' font-size="26.4" text-anchor="end" fill="#000" transform="translate(804.40,542.29) scale(0.962,1)">0.3</text>
<text x="0" y="0" font-family='"Liberation Sans", sans-serif' font-size="26.4" text-anchor="middle" fill="#000" transform="translate(850.50,888.10) scale(0.962,1)">0.0</text>
<text x="0" y="0" font-family='"Liberation Sans", sans-serif' font-size="26.4" text-anchor="middle" fill="#000" transform="translate(1010.50,888.10) scale(0.962,1)">0.5</text>
<text x="0" y="0" font-family='"Liberation Sans", sans-serif' font-size="26.4" text-anchor="middle" fill="#000" transform="translate(1170.50,888.10) scale(0.962,1)">1.0</text>
<text x="0" y="0" font-family='"Liberation Sans", sans-serif' font-size="28.4" text-anchor="middle" fill="#000" transform="translate(1010.0,917.8) scale(1.028,1)">Voltage [V]</text>
<text x="0" y="0" font-family='"Liberation Sans", sans-serif' font-size="28.4" text-anchor="middle" fill="#000" transform="translate(751.0,714.5) rotate(-90) scale(1.021,1)">Current [mA]</text>
<path d="M850.20,809.30C866.83,808.97 918.37,807.98 950.00,807.30C981.63,806.62 1013.33,805.83 1040.00,805.20C1066.67,804.57 1088.17,804.03 1110.00,803.50C1131.83,802.97 1160.83,802.25 1171.00,802.00" fill="none" stroke="#000" stroke-width="2.9" stroke-linejoin="round" stroke-linecap="round"/>
<path d="M850.50,769.00C852.63,766.67 859.13,759.77 863.30,755.00C867.47,750.23 871.43,745.48 875.50,740.40C879.57,735.32 883.62,729.80 887.70,724.50C891.78,719.20 895.92,713.68 900.00,708.60C904.08,703.52 908.13,698.68 912.20,694.00C916.27,689.32 920.70,684.29 924.40,680.50C928.10,676.71 931.17,674.35 934.40,671.25C937.62,668.15 940.63,664.88 943.75,661.90C946.87,658.92 949.98,656.13 953.10,653.40C956.23,650.67 959.37,647.77 962.50,645.50C965.63,643.23 968.77,641.60 971.90,639.80C975.02,638.00 978.13,636.18 981.25,634.70C984.37,633.22 987.48,631.92 990.60,630.90C993.73,629.88 996.87,629.30 1000.00,628.60C1003.13,627.90 1006.27,627.08 1009.40,626.70C1012.52,626.32 1015.63,626.45 1018.75,626.30C1021.87,626.15 1024.56,625.95 1028.10,625.80C1031.64,625.65 1037.02,625.54 1040.00,625.40C1042.98,625.26 1044.00,625.11 1046.00,624.97C1048.00,624.83 1050.00,624.53 1052.00,624.55C1054.00,624.56 1056.00,625.14 1058.00,625.06C1060.00,624.98 1062.00,624.16 1064.00,624.07C1066.00,623.98 1068.00,624.53 1070.00,624.53C1072.00,624.54 1074.00,624.29 1076.00,624.11C1078.00,623.94 1080.00,623.53 1082.00,623.50C1084.00,623.47 1086.00,624.01 1088.00,623.95C1090.00,623.88 1092.00,623.18 1094.00,623.11C1096.00,623.03 1098.00,623.53 1100.00,623.48C1102.00,623.42 1104.00,622.93 1106.00,622.78C1108.00,622.64 1110.00,622.61 1112.00,622.63C1114.00,622.65 1116.00,622.80 1118.00,622.91C1120.00,623.03 1122.00,623.43 1124.00,623.29C1126.00,623.16 1128.00,622.33 1130.00,622.13C1132.00,621.93 1134.00,622.03 1136.00,622.08C1138.00,622.14 1140.00,622.36 1142.00,622.47C1144.00,622.57 1146.00,622.80 1148.00,622.73C1150.00,622.66 1152.00,622.22 1154.00,622.03C1156.00,621.84 1158.00,621.60 1160.00,621.59C1162.00,621.59 1164.13,621.82 1166.00,622.00C1167.87,622.18 1170.33,622.58 1171.20,622.70" fill="none" stroke="#d40000" stroke-width="2.9" stroke-linejoin="round" stroke-linecap="round"/>
<rect x="1038.25" y="555" width="136.75" height="38.75" fill="#fff" stroke="#000" stroke-width="1.2"/>
<line x1="1049.50" y1="568.00" x2="1081.80" y2="568.00" stroke="#000" stroke-width="2.9" stroke-linecap="round"/>
<line x1="1049.50" y1="585.00" x2="1081.80" y2="585.00" stroke="#d40000" stroke-width="2.9" stroke-linecap="round"/>
<text x="1085.5" y="572.5" font-family='"Liberation Sans", sans-serif' font-size="14.4" text-anchor="start" fill="#000" >dark current</text>
<text x="1085.5" y="590" font-family='"Liberation Sans", sans-serif' font-size="14.4" text-anchor="start" fill="#000" >photo current</text>
<text x="952.4" y="746.6" font-family='"Liberation Sans", sans-serif' font-size="19" text-anchor="start" fill="#000" textLength="209.9" lengthAdjust="spacingAndGlyphs" >sensitivity = 24.52 @ 1V</text>
</svg>
</body></html>
